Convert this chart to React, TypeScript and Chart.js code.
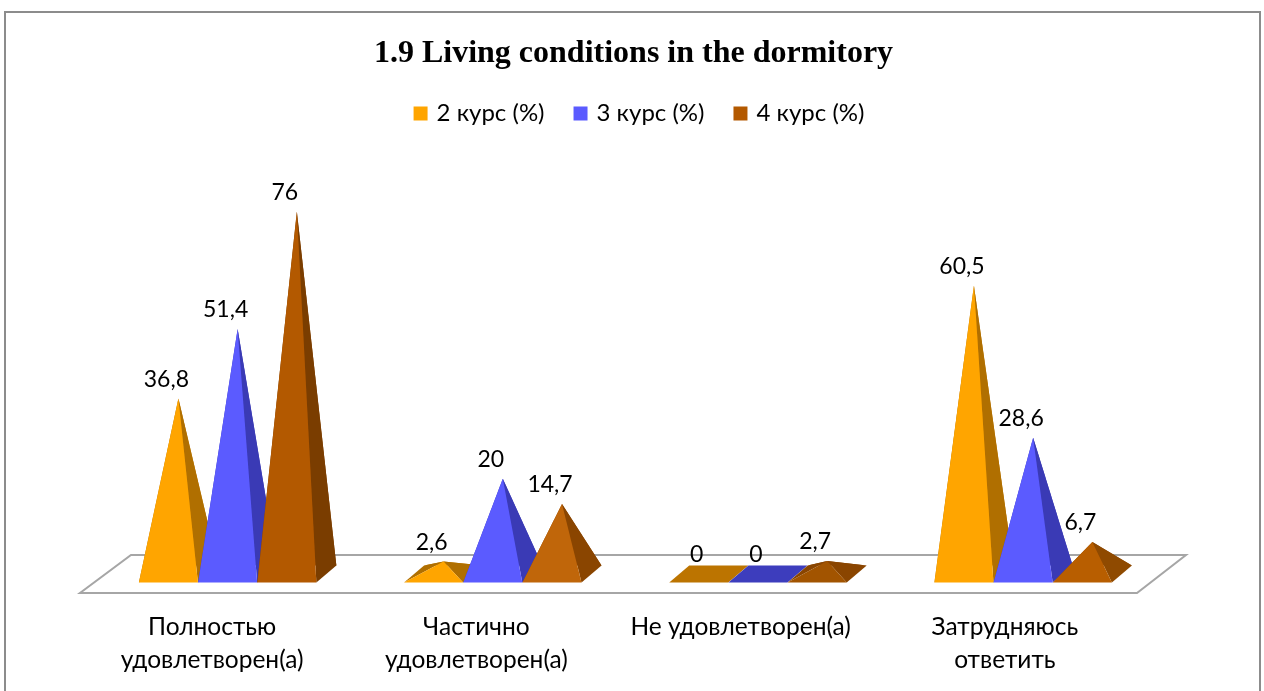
import React, { useEffect, useRef } from "react";
import { Chart, registerables } from "chart.js";

Chart.register(...registerables);

const categories = [
  ["Полностью", "удовлетворен(а)"],
  ["Частично", "удовлетворен(а)"],
  "Не удовлетворен(а)",
  ["Затрудняюсь", "ответить"],
];
const course2 = [36.8, 2.6, 0, 60.5];
const course3 = [51.4, 20, 0, 28.6];
const course4 = [76, 14.7, 2.7, 6.7];

const colors = ["#FFA500", "#5B5BFF", "#B35900"];
const sideColors = ["#B06F00", "#3A3AB5", "#7A3D00"];
const flatColors = ["#BC7400", "#3D3DBD", "#8F4800"];
const backColors = ["#C47E00", "#3A3AB5", "#8A4500"];
const frontBrown = ["#B35900", "#C0660A", "#A25400", "#B85E00"];
const sideBrown = ["#7A3D00", "#8A4500", "#8A4500", "#8F4A00"];

const FONT = "Lato, 'Noto Sans', sans-serif";
const DX = 20;
const DY = 8.5;
const SKEW = 0.0035;

function poly(ctx: CanvasRenderingContext2D, pts: number[][], fill: string) {
  ctx.beginPath();
  pts.forEach((p, i) => (i ? ctx.lineTo(p[0], p[1]) : ctx.moveTo(p[0], p[1])));
  ctx.closePath();
  ctx.fillStyle = fill;
  ctx.fill();
}

const pyramidPlugin = {
  id: "pyramid",
  afterLayout(chart: any) {
    chart.legend.left += 32;
    chart.legend.right += 32;
    chart.legend.top -= 4;
    chart.legend.bottom -= 4;
    chart.titleBlock.left += 25;
    chart.titleBlock.right += 25;
  },
  beforeDatasetsDraw(chart: any) {
    const { ctx, chartArea: a } = chart;
    const y0 = a.bottom;
    ctx.save();
    ctx.beginPath();
    ctx.moveTo(a.left, y0);
    ctx.lineTo(a.right, y0);
    ctx.lineTo(a.right + 49, y0 - 38);
    ctx.lineTo(a.left + 51, y0 - 38);
    ctx.closePath();
    ctx.fillStyle = "#FFFFFF";
    ctx.fill();
    ctx.lineWidth = 2;
    ctx.strokeStyle = "#A6A6A6";
    ctx.stroke();
    ctx.restore();
  },
  beforeDatasetDraw() {
    return false;
  },
  afterDatasetsDraw(chart: any) {
    const { ctx } = chart;
    ctx.save();
    chart.data.datasets.forEach((ds: any, d: number) => {
      chart.getDatasetMeta(d).data.forEach((el: any, i: number) => {
        const w = el.width;
        const cx = el.x + 15.5 + (el.x - 212) * SKEW;
        const x0 = cx - w / 2;
        const x1 = cx + w / 2;
        const b = el.base;
        const FL = [x0, b + DY];
        const FR = [x1, b + DY];
        const BR = [x1 + DX, b - DY];
        const BL = [x0 + DX, b - DY];
        const A = [cx + DX / 2, el.y];
        const v = ds.data[i];
        if (v === 0) {
          poly(ctx, [FL, FR, BR, BL], flatColors[d]);
          return;
        }
        const front = d === 2 ? frontBrown[i] : colors[d];
        const side = d === 2 ? sideBrown[i] : sideColors[d];
        poly(ctx, [BL, BR, A], backColors[d]);
        poly(ctx, [FL, BL, A], side);
        poly(ctx, [FR, BR, A], side);
        poly(ctx, [FL, FR, A], front);
      });
    });
    ctx.fillStyle = "#000000";
    ctx.font = `23px ${FONT}`;
    ctx.textAlign = "center";
    ctx.textBaseline = "middle";
    chart.data.datasets.forEach((ds: any, d: number) => {
      chart.getDatasetMeta(d).data.forEach((el: any, i: number) => {
        const cx = el.x + 15.5 + (el.x - 212) * SKEW;
        const label = String(ds.data[i]).replace(".", ",");
        ctx.fillText(label, cx - 2, el.y - 19);
      });
    });
    ctx.restore();
  },
  beforeDraw(chart: any) {
    const { ctx, width, height } = chart;
    ctx.save();
    ctx.fillStyle = "#FFFFFF";
    ctx.fillRect(0, 0, width, height);
    ctx.strokeStyle = "#8C8C8C";
    ctx.lineWidth = 2;
    ctx.strokeRect(5, 12, 1255, height + 20);
    ctx.restore();
  },
};

function series(label: string, data: number[], color: string) {
  return {
    label,
    data,
    backgroundColor: color,
    borderColor: color,
    borderWidth: 6,
    categoryPercentage: 0.67,
    barPercentage: 1,
  };
}

export default function App() {
  const ref = useRef<HTMLCanvasElement>(null);
  useEffect(() => {
    if (!ref.current) return;
    const chart = new Chart(ref.current, {
      type: "bar",
      data: {
        labels: categories as any,
        datasets: [
          series("2 курс (%)", course2, colors[0]),
          series("3 курс (%)", course3, colors[1]),
          series("4 курс (%)", course4, colors[2]),
        ],
      },
      options: {
        responsive: false,
        animation: false,
        layout: { padding: { left: 80, right: 127, bottom: 0, top: 0 } },
        plugins: {
          title: {
            display: true,
            text: "1.9 Living conditions in the dormitory",
            color: "#000000",
            font: { family: "'Liberation Serif', serif", size: 32, weight: "bold", lineHeight: 1.2 },
            padding: { top: 35, bottom: 0 },
          },
          legend: {
            display: true,
            position: "top",
            labels: {
              color: "#000000",
              font: { family: FONT, size: 24 },
              boxWidth: 8,
              boxHeight: 8,
              padding: 32,
            },
          },
          tooltip: { enabled: false },
        },
        scales: {
          x: {
            grid: { display: false, drawTicks: false },
            border: { display: false },
            afterFit(scale: any) {
              scale.height = 98;
            },
            ticks: {
              color: "#000000",
              font: { family: FONT, size: 24.5, lineHeight: 1.33 },
              padding: 18,
              maxRotation: 0,
              autoSkip: false,
            },
          },
          y: { display: false, min: -4, max: 91.2 },
        },
      },
      plugins: [pyramidPlugin],
    } as any);
    return () => chart.destroy();
  }, []);
  return (
    <canvas
      ref={ref}
      width={1264}
      height={691}
      style={{ position: "absolute", left: 0, top: 0, display: "block" }}
    />
  );
}
